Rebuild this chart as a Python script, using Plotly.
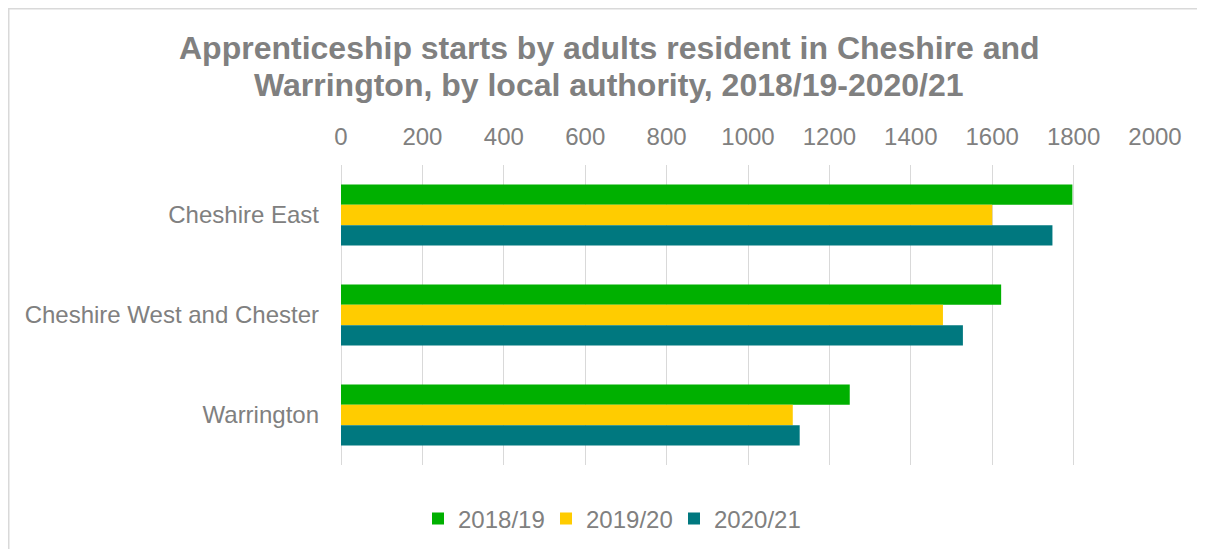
import plotly.graph_objects as go

categories = ["Cheshire East", "Cheshire West and Chester", "Warrington"]
series_names = ["2018/19", "2019/20", "2020/21"]
values_2018_19 = [1797, 1622, 1250]
values_2019_20 = [1600, 1479, 1110]
values_2020_21 = [1748, 1528, 1127]
tick_values = [0, 200, 400, 600, 800, 1000, 1200, 1400, 1600, 1800, 2000]
title_lines = ["Apprenticeship starts by adults resident in Cheshire and",
               "Warrington, by local authority, 2018/19-2020/21"]

colors = ["#00B000", "#FFCC00", "#00787F"]
series_values = [values_2018_19, values_2019_20, values_2020_21]

W, H = 1197, 541
L, R, T, B = 333, 50, 157, 84
PH = H - T - B
PW = W - L - R

fig = go.Figure()
for name, vals, col in zip(series_names, series_values, colors):
    fig.add_trace(go.Bar(
        y=categories, x=vals, name=name, orientation="h",
        marker=dict(color=col, line=dict(width=0)),
    ))

font_family = "Liberation Sans, Arial, sans-serif"
grey = "#808080"

def py(ypix):
    return (H - B - ypix) / PH

def px(xpix):
    return (xpix - L) / PW

for line, yc in zip(title_lines, [39.5, 76.5]):
    fig.add_annotation(text="<b>" + line + "</b>", xref="paper", yref="paper",
                       x=px(601), y=py(yc), xanchor="center", yanchor="middle",
                       showarrow=False, font=dict(size=32, color=grey, family=font_family))

fig.update_layout(
    width=W, height=H,
    margin=dict(l=L, r=R, t=T, b=B),
    paper_bgcolor="white", plot_bgcolor="white",
    barmode="group", bargap=0.39, bargroupgap=0,
    font=dict(family=font_family, color=grey),
    xaxis=dict(
        side="top", range=[0, 2000], tickvals=tick_values,
        showgrid=True, gridcolor="#D9D9D9", gridwidth=1.3,
        zeroline=True, zerolinecolor="#D9D9D9", zerolinewidth=1.3,
        showline=False, ticks="",
        tickfont=dict(size=24, color=grey), ticklabelstandoff=14,
    ),
    yaxis=dict(
        autorange="reversed", showgrid=False, showline=False, ticks="",
        tickfont=dict(size=24, color=grey), ticklabelstandoff=21,
    ),
    legend=dict(
        orientation="h", x=410 / W, xanchor="left", xref="container",
        y=1 - 511 / H, yanchor="middle", yref="container",
        font=dict(size=24, color=grey), traceorder="normal",
        itemwidth=30, entrywidth=83, entrywidthmode="pixels",
        bgcolor="rgba(0,0,0,0)",
    ),
    showlegend=True,
)

fig.add_shape(type="rect", xref="paper", yref="paper",
              x0=px(0.75), x1=px(W + 20), y0=py(H + 20), y1=py(0.75),
              line=dict(color="#D9D9D9", width=1.5), fillcolor="rgba(0,0,0,0)", layer="below")

fig.write_html("out.html")
